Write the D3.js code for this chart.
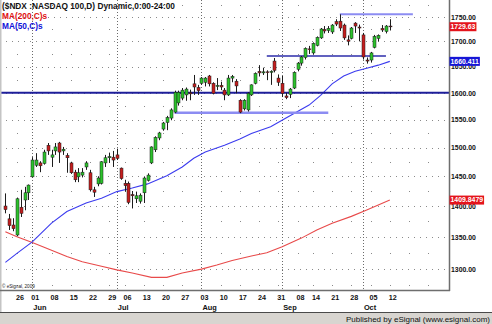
<!DOCTYPE html>
<html>
<head>
<meta charset="utf-8">
<script src="https://cdn.jsdelivr.net/npm/d3@7"></script>
<style>
  body { margin: 0; background: #fff; }
  svg { display: block; font-family: "Liberation Sans", Arial, sans-serif; }
</style>
</head>
<body>
<script>
// trading days shown (2009), MM-DD
const days = [
  "05-20","05-21","05-22","05-26","05-27","05-28","05-29",
  "06-01","06-02","06-03","06-04","06-05","06-08","06-09","06-10","06-11","06-12",
  "06-15","06-16","06-17","06-18","06-19","06-22","06-23","06-24","06-25","06-26","06-29","06-30",
  "07-01","07-02","07-06","07-07","07-08","07-09","07-10","07-13","07-14","07-15","07-16","07-17",
  "07-20","07-21","07-22","07-23","07-24","07-27","07-28","07-29","07-30","07-31",
  "08-03","08-04","08-05","08-06","08-07","08-10","08-11","08-12","08-13","08-14",
  "08-17","08-18","08-19","08-20","08-21","08-24","08-25","08-26","08-27","08-28","08-31",
  "09-01","09-02","09-03","09-04","09-08","09-09","09-10","09-11","09-14","09-15","09-16","09-17","09-18",
  "09-21","09-22","09-23","09-24","09-25","09-28","09-29","09-30",
  "10-01","10-02","10-05","10-06","10-07","10-08","10-09","10-12"
]
// empty days to the right of the last bar
const futureDays = ["10-13","10-14","10-15","10-16","10-19","10-20","10-21","10-22","10-23","10-26","10-27","10-28","10-29","10-30"]

const open = [1400,1379,1369,1353,1398,1410,1422,1449,1469,1473,1472,1504,1483,1494,1508,1494,1486,
  1473,1457,1449,1452,1466,1456,1427,1437,1438,1473,1482,1483,
  1487,1464,1438,1438,1419,1412,1408,1422,1443,1473,1496,1517,
  1533,1545,1553,1564,1581,1590,1596,1600,1617,1610,
  1618,1620,1632,1618,1612,1614,1605,1596,1628,1622,
  1586,1570,1568,1596,1618,1641,1638,1640,1639,1661,1628,
  1618,1594,1597,1609,1645,1657,1668,1685,1677,1692,1707,1724,1722,
  1719,1740,1741,1733,1703,1706,1737,1729,
  1713,1663,1663,1688,1706,1726,1720,1731]
const high = [1421,1387,1380,1414,1427,1432,1436,1483,1490,1476,1496,1508,1496,1508,1510,1501,1490,
  1475,1461,1464,1464,1476,1461,1432,1450,1476,1487,1491,1494,
  1498,1465,1444,1441,1425,1424,1421,1449,1455,1502,1520,1528,
  1546,1557,1571,1604,1604,1609,1610,1606,1634,1615,
  1630,1630,1634,1620,1628,1621,1609,1634,1634,1626,
  1588,1588,1601,1616,1639,1653,1648,1643,1643,1667,1635,
  1632,1600,1609,1641,1659,1671,1688,1691,1698,1710,1727,1731,1731,
  1735,1745,1755,1736,1712,1729,1739,1734,
  1717,1668,1679,1713,1714,1733,1733,1745]
const low = [1388,1361,1359,1351,1382,1393,1410,1448,1466,1457,1470,1487,1466,1487,1473,1487,1456,
  1454,1440,1440,1448,1461,1425,1415,1433,1436,1466,1473,1466,
  1478,1444,1424,1403,1396,1405,1404,1405,1441,1471,1492,1513,
  1530,1531,1549,1562,1576,1586,1585,1586,1596,1596,
  1615,1612,1612,1597,1605,1605,1586,1594,1620,1599,
  1562,1567,1565,1594,1616,1631,1634,1624,1615,1639,1613,
  1592,1588,1590,1607,1641,1652,1664,1675,1674,1690,1705,1716,1717,
  1715,1731,1721,1703,1692,1704,1717,1700,
  1664,1656,1658,1686,1700,1719,1716,1722]
const close = [1394,1368,1363,1412,1388,1422,1435,1478,1478,1468,1492,1494,1487,1501,1492,1497,1482,
  1456,1444,1456,1457,1473,1427,1423,1447,1475,1482,1484,1478,
  1481,1446,1434,1406,1417,1417,1418,1447,1452,1501,1518,1526,
  1544,1554,1568,1601,1601,1605,1607,1598,1611,1604,
  1628,1628,1617,1599,1614,1611,1596,1628,1631,1613,
  1564,1586,1599,1615,1637,1638,1640,1639,1641,1643,1620,
  1599,1591,1607,1639,1657,1669,1686,1684,1696,1708,1725,1721,1726,
  1733,1735,1727,1707,1700,1727,1731,1727,
  1669,1661,1677,1710,1712,1723,1731,1729.63]

// moving averages, read at sample days
const ma50Days = ["05-20","05-26","06-01","06-08","06-12","06-19","06-25","07-01","07-08","07-14",
  "07-21","07-27","07-30","08-04","08-11","08-17","08-20","08-27","09-02","09-08","09-11",
  "09-16","09-21","09-24","09-29","10-02","10-07","10-12"]
const ma50 = [1310,1324,1342,1372,1391,1405,1413,1424,1430,1437,
  1451,1466,1481,1492,1504,1515,1525,1537,1553,1565,1577,
  1595,1617,1632,1641,1647,1653,1660.411]
const ma200Days = ["05-20","05-26","06-01","06-08","06-12","06-18","06-25","07-01","07-08","07-15",
  "07-21","07-27","08-03","08-07","08-13","08-20","08-26","09-01","09-09","09-15",
  "09-21","09-28","10-02","10-12"]
const ma200 = [1358,1350,1341,1329,1319,1311,1304,1298.5,1293.6,1287,
  1287,1293.6,1299.6,1306,1313,1320,1325,1334.5,1348,1361,
  1372,1383,1393.5,1409.8479]

// drawn horizontal lines: level, first day, last day (null = full width)
const lineLevel = [1600, 1563, 1671, 1755]
const lineFrom = [null, "07-23", "08-26", "09-23"]
const lineTo = [null, "09-18", "10-09", "10-20"]

const priceTicks = [1300,1350,1400,1450,1500,1550,1600,1650,1700,1750]
const weekTicks = ["05-26","06-01","06-08","06-15","06-22","06-29","07-06","07-13","07-20","07-27",
  "08-03","08-10","08-17","08-24","08-31","09-08","09-14","09-21","09-28","10-05","10-12"]
const monthStart = ["06-01","07-01","08-03","09-01","10-01"]
const monthName = ["Jun","Jul","Aug","Sep","Oct"]

const width = 492
const height = 324
const plotR = 449
const plotB = 290

const allDays = days.concat(futureDays)
const di = d => allDays.indexOf(d)

const svg = d3.select("body").append("svg")
  .attr("width", width)
  .attr("height", height)

svg.append("rect").attr("width", width).attr("height", height).attr("fill", "#fff")

const x = d3.scaleLinear().domain([-1.4, 115.4]).range([0, plotR])
const y = d3.scaleLog().domain([1268, 1785]).range([plotB, 0])
const px = i => Math.round(x(i)) + 0.5

// grid
const grid = svg.append("g")
grid.selectAll("line.h")
  .data(priceTicks)
  .enter().append("line")
  .attr("x1", 0).attr("x2", plotR)
  .attr("y1", d => Math.round(y(d)) + 0.5).attr("y2", d => Math.round(y(d)) + 0.5)
  .attr("stroke", "#8a8a8a")
  .attr("stroke-dasharray", "1,5")

grid.selectAll("line.v")
  .data(monthStart)
  .enter().append("line")
  .attr("x1", d => px(di(d))).attr("x2", d => px(di(d)))
  .attr("y1", 0).attr("y2", plotB)
  .attr("stroke", "#6a6a6a")
  .attr("stroke-dasharray", "1,2")

const minorLevels = d3.range(1275, 1800, 25)
const minorCols = weekTicks.filter(d => monthStart.indexOf(d) < 0).concat(["10-19", "10-26"])
minorCols.forEach(d => {
  grid.selectAll(null)
    .data(minorLevels.filter(v => v % 50 != 0))
    .enter().append("rect")
    .attr("x", Math.round(x(di(d))))
    .attr("y", v => Math.round(y(v)))
    .attr("width", 1).attr("height", 1)
    .attr("fill", "#8a8a8a")
})

// moving averages
const line = d3.line().x(d => x(d[0])).y(d => y(d[1]))
svg.append("path")
  .datum(ma200Days.map((d, i) => [di(d), ma200[i]]))
  .attr("d", line)
  .attr("fill", "none")
  .attr("stroke", "#e84a4a")
  .attr("stroke-width", 1.1)
svg.append("path")
  .datum(ma50Days.map((d, i) => [di(d), ma50[i]]))
  .attr("d", line)
  .attr("fill", "none")
  .attr("stroke", "#3b3bef")
  .attr("stroke-width", 1.1)

// horizontal lines
const lineColor = ["#1e1e9a", "#8c8cf2", "#2c2caa", "#8c8cf2"]
const lineWidth = [2, 2.5, 1.6, 2]
svg.selectAll("line.lvl")
  .data(lineLevel)
  .enter().append("line")
  .attr("x1", (d, i) => lineFrom[i] ? x(di(lineFrom[i])) : 0)
  .attr("x2", (d, i) => lineTo[i] ? x(di(lineTo[i])) : plotR)
  .attr("y1", d => y(d)).attr("y2", d => y(d))
  .attr("stroke", (d, i) => lineColor[i])
  .attr("stroke-width", (d, i) => lineWidth[i])

// candles
const bars = days.map((d, i) => ({ i: i, o: open[i], h: high[i], l: low[i], c: close[i] }))
const candle = svg.append("g")
candle.selectAll("line")
  .data(bars)
  .enter().append("line")
  .attr("x1", d => px(d.i)).attr("x2", d => px(d.i))
  .attr("y1", d => y(d.h)).attr("y2", d => y(d.l))
  .attr("stroke", "#1c1c1c")
  .attr("stroke-width", 1)
candle.selectAll("rect")
  .data(bars)
  .enter().append("rect")
  .attr("x", d => px(d.i) - 1.5)
  .attr("width", 3)
  .attr("y", d => y(Math.max(d.o, d.c)))
  .attr("height", d => Math.max(0.8, Math.abs(y(d.o) - y(d.c))))
  .attr("fill", d => d.c >= d.o ? "#2cc22c" : "#c41e1e")
  .attr("stroke", "#1c1c1c")
  .attr("stroke-width", 0.5)

// frame
svg.append("rect").attr("x", 0).attr("y", 0).attr("width", 1.5).attr("height", 312).attr("fill", "#c4c4c4")
svg.append("line").attr("x1", plotR + 0.5).attr("x2", plotR + 0.5).attr("y1", 0).attr("y2", plotB + 1)
  .attr("stroke", "#6e6e6e").attr("stroke-width", 1.5)
svg.append("line").attr("x1", 0).attr("x2", plotR + 1).attr("y1", plotB + 0.5).attr("y2", plotB + 0.5)
  .attr("stroke", "#6e6e6e").attr("stroke-width", 1.5)

// right axis
const yAxis = d3.axisRight(y)
  .tickValues(priceTicks)
  .tickFormat(d3.format(".2f"))
  .tickSize(0)
  .tickPadding(2)
const gY = svg.append("g")
  .attr("transform", "translate(" + plotR + ",0)")
  .call(yAxis)
gY.select(".domain").remove()
gY.selectAll("text")
  .attr("font-family", "Liberation Sans, Arial, sans-serif")
  .attr("font-size", 6.9)
  .attr("font-weight", "bold")
  .attr("fill", "#111")

// last value boxes
const lastVals = [close[close.length - 1], ma50[ma50.length - 1], ma200[ma200.length - 1]]
const boxColor = ["#e4141c", "#1616d6", "#e4141c"]
lastVals.forEach((v, i) => {
  const g = svg.append("g")
  const t = g.append("text")
    .attr("x", plotR + 1.5)
    .attr("y", y(v))
    .attr("dy", "0.35em")
    .attr("font-size", 6.9)
    .attr("font-weight", "bold")
    .attr("fill", "#fff")
    .text(String(v))
  const w = t.node().getComputedTextLength()
  g.insert("rect", "text")
    .attr("x", plotR + 0.5)
    .attr("y", y(v) - 4.5)
    .attr("width", w + 2)
    .attr("height", 9)
    .attr("fill", boxColor[i])
})

// bottom axis
const xAxis = d3.axisBottom(x)
  .tickValues(weekTicks.map(di))
  .tickFormat(i => allDays[i].slice(3))
  .tickSize(0)
  .tickPadding(4.5)
const gX = svg.append("g")
  .attr("transform", "translate(2.5," + plotB + ")")
  .call(xAxis)
gX.select(".domain").remove()
gX.selectAll("text")
  .attr("font-family", "Liberation Sans, Arial, sans-serif")
  .attr("font-size", 7.2)
  .attr("font-weight", "bold")
  .attr("fill", "#111")

svg.selectAll("text.month")
  .data(monthStart)
  .enter().append("text")
  .attr("x", d => x(di(d)) + 1)
  .attr("y", 309.5)
  .attr("font-size", 7.4)
  .attr("font-weight", "bold")
  .attr("fill", "#111")
  .text((d, i) => monthName[i])

// footer
svg.append("rect").attr("x", 0).attr("y", 313).attr("width", width).attr("height", 11).attr("fill", "#d8d5d0")
svg.append("line").attr("x1", 0).attr("x2", width).attr("y1", 312.5).attr("y2", 312.5).attr("stroke", "#4a4a4a")
svg.append("text")
  .attr("x", 490).attr("y", 321.5)
  .attr("text-anchor", "end")
  .attr("font-size", 8)
  .attr("fill", "#111")
  .text("Published by eSignal (www.esignal.com)")

svg.append("text")
  .attr("x", 2).attr("y", 287.5)
  .attr("font-size", 4.6)
  .attr("fill", "#222")
  .text("\u00a9 eSignal, 2009")

// legend
const legend = [["($NDX :NASDAQ 100,D) Dynamic,0:00-24:00", "#111"], ["MA(200,C)s", "#e01010"], ["MA(50,C)s", "#1010d8"]]
svg.selectAll("text.leg")
  .data(legend)
  .enter().append("text")
  .attr("x", 2)
  .attr("y", (d, i) => 9.3 + i * 9.8)
  .attr("font-size", 8.3)
  .attr("font-weight", "bold")
  .attr("fill", d => d[1])
  .text(d => d[0])
</script>
</body>
</html>
